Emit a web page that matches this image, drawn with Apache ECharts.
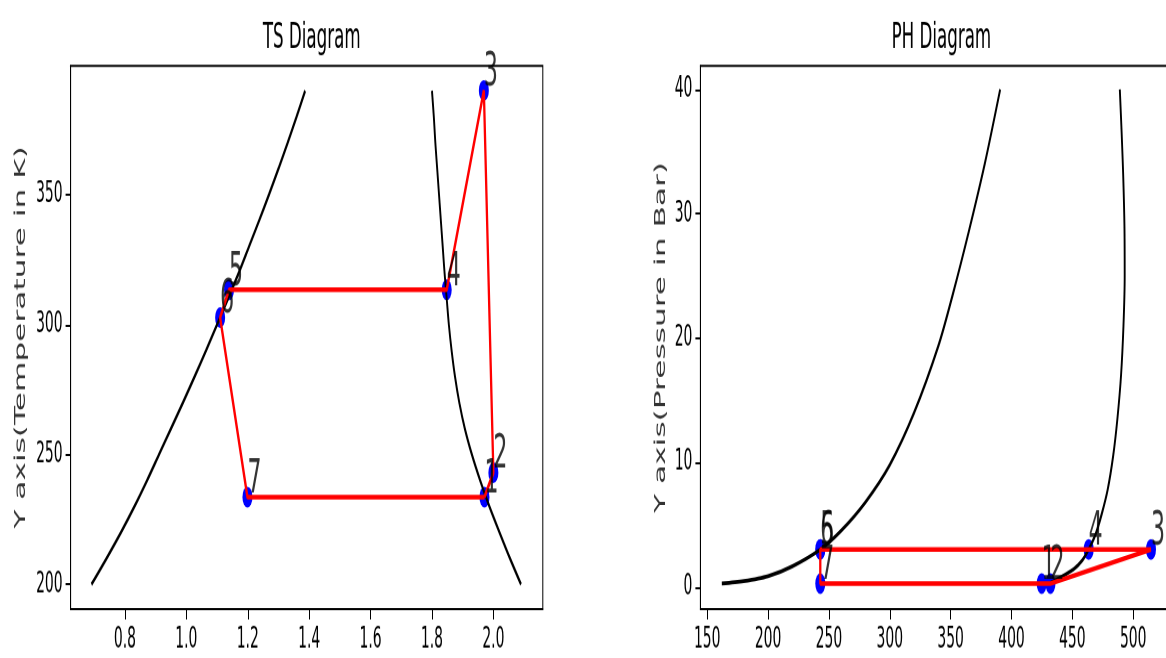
<!DOCTYPE html>
<html>
<head>
<meta charset="utf-8">
<title>TS / PH Diagram</title>
<script src="https://cdn.jsdelivr.net/npm/echarts@6.0.0/dist/echarts.min.js"></script>
<style>
  html, body { margin: 0; padding: 0; background: #fff; }
  #wrap { width: 1166px; height: 658px; position: relative; }
  /* the source figure is squashed: draw it 316px tall, then stretch to 658 */
  #chart { position: absolute; left: 0; top: 0; width: 1166px; height: 316px; transform: scaleY(2.0823); transform-origin: 0 0; }
</style>
</head>
<body>
<div id="wrap"><div id="chart"></div></div>
<script>
// cycle state points 1..7
const pointNames = ['1', '2', '3', '4', '5', '6', '7']
const tsEntropy = [1.971, 2.0, 1.969, 1.848, 1.139, 1.110, 1.199]
const tsTemp = [233.6, 243.0, 390.1, 313.4, 313.4, 302.7, 233.6]
const phEnthalpy = [424.8, 432.0, 514.6, 463.4, 242.9, 242.9, 242.9]
const phPressure = [0.25, 0.25, 3.0, 3.0, 3.0, 3.0, 0.25]

// saturation curves, TS
const tsCurveTemp = [200, 210, 220, 230, 240, 250, 260, 270, 280, 290, 300, 310, 320, 330, 340, 350, 360, 370, 380, 390]
const tsLiquidS = [0.691, 0.740, 0.787, 0.831, 0.872, 0.911, 0.950, 0.989, 1.027, 1.064, 1.100, 1.136, 1.171, 1.204, 1.237, 1.269, 1.300, 1.330, 1.359, 1.387]
const tsVapourS = [2.090, 2.054, 2.020, 1.987, 1.957, 1.930, 1.907, 1.889, 1.875, 1.864, 1.855, 1.848, 1.841, 1.835, 1.829, 1.823, 1.817, 1.811, 1.806, 1.800]

// saturation curves, PH
const phLiquidH = [162, 180, 200, 220, 242.9, 260, 280, 300, 320, 340, 352, 365, 378, 390.7]
const phLiquidP = [0.26, 0.45, 0.85, 1.65, 3.0, 4.5, 6.8, 9.8, 14.0, 19.4, 23.6, 28.6, 34.0, 40.0]
const phVapourH = [432, 441, 451, 458, 463.4, 469, 474, 479, 483.5, 487, 490, 492, 493, 492.8, 491.8, 490.5, 489]
const phVapourP = [0.3, 0.8, 1.4, 2.1, 3.0, 4.2, 5.8, 7.8, 10.5, 13.5, 17, 21, 25, 29, 33, 36.5, 40]

// tick labels
const tsXTicks = [0.8, 1.0, 1.2, 1.4, 1.6, 1.8, 2.0]
const tsYTicks = [200, 250, 300, 350]
const phXTicks = [150, 200, 250, 300, 350, 400, 450, 500]
const phYTicks = [0, 10, 20, 30, 40]

const FONT = 'DejaVu Sans'

function pairs(xs, ys) {
  return xs.map((x, i) => [x, ys[i]])
}

function cycle(xs, ys) {
  const d = pairs(xs, ys)
  d.push(d[0])
  return d
}

function axis(gridIndex, min, max, ticks, fmt) {
  return {
    type: 'value',
    gridIndex: gridIndex,
    min: min,
    max: max,
    axisLine: { show: true, onZero: false, lineStyle: { color: '#000', width: 1 } },
    axisTick: { show: true, length: 5, customValues: ticks, lineStyle: { color: '#000', width: 1 } },
    axisLabel: {
      customValues: ticks,
      formatter: fmt,
      fontFamily: FONT,
      fontSize: 13.9,
      color: '#000',
      margin: 8
    },
    splitLine: { show: false }
  }
}

function curve(idx, data) {
  return {
    type: 'line',
    xAxisIndex: idx,
    yAxisIndex: idx,
    data: data,
    symbol: 'none',
    smooth: 0.3,
    lineStyle: { color: '#000', width: 1.9 },
    z: 3,
    silent: true
  }
}

function redCycle(idx, data) {
  return {
    type: 'line',
    xAxisIndex: idx,
    yAxisIndex: idx,
    data: data,
    symbol: 'none',
    lineStyle: { color: '#ff0000', width: 2.3 },
    z: 4,
    silent: true
  }
}

function markers(idx, data) {
  return {
    type: 'scatter',
    xAxisIndex: idx,
    yAxisIndex: idx,
    data: data,
    symbolSize: 10,
    itemStyle: { color: '#0000ff', opacity: 1 },
    z: 2,
    silent: true
  }
}

function labels(idx, xs, ys) {
  return {
    type: 'scatter',
    xAxisIndex: idx,
    yAxisIndex: idx,
    data: xs.map((x, i) => ({ name: pointNames[i], value: [x, ys[i]] })),
    symbolSize: 10,
    itemStyle: { color: 'rgba(0,0,0,0)' },
    label: {
      show: true,
      formatter: p => p.name,
      position: [5, 8],
      align: 'left',
      verticalAlign: 'bottom',
      fontFamily: FONT,
      fontSize: 22,
      color: '#000'
    },
    z: 6,
    silent: true
  }
}

const tsX = axis(0, 0.623, 2.161, tsXTicks, v => v.toFixed(1))
const tsY = axis(0, 190.5, 399.6, tsYTicks, v => String(v))
tsY.name = 'Y axis(Temperature in K)'
tsY.nameLocation = 'middle'
tsY.nameGap = 42
tsY.nameTextStyle = { fontFamily: FONT, fontSize: 15, color: '#333' }

const phX = axis(1, 144.4, 532.2, phXTicks, v => String(v))
const phY = axis(1, -1.8, 41.9, phYTicks, v => String(v))
phY.name = 'Y axis(Pressure in Bar)'
phY.nameLocation = 'middle'
phY.nameGap = 32
phY.nameTextStyle = { fontFamily: FONT, fontSize: 15, color: '#333' }

const myChart = echarts.init(document.getElementById('chart'), null, { devicePixelRatio: 2 })

myChart.setOption({
  animation: false,
  backgroundColor: '#fff',
  title: [
    { text: 'TS Diagram', left: 306.7, top: 5, textAlign: 'center',
      textStyle: { fontFamily: FONT, fontSize: 16.7, fontWeight: 'normal', color: '#000' } },
    { text: 'PH Diagram', left: 936.4, top: 5, textAlign: 'center',
      textStyle: { fontFamily: FONT, fontSize: 16.7, fontWeight: 'normal', color: '#000' } }
  ],
  grid: [
    { left: 70.6, top: 31.6, width: 472.2, height: 260.9, show: true, borderColor: '#000', borderWidth: 1, outerBoundsMode: 'none' },
    { left: 700.4, top: 31.6, width: 472, height: 260.9, show: true, borderColor: '#000', borderWidth: 1, outerBoundsMode: 'none' }
  ],
  xAxis: [tsX, phX],
  yAxis: [tsY, phY],
  series: [
    markers(0, pairs(tsEntropy, tsTemp)),
    curve(0, pairs(tsLiquidS, tsCurveTemp)),
    curve(0, pairs(tsVapourS, tsCurveTemp)),
    redCycle(0, cycle(tsEntropy, tsTemp)),
    labels(0, tsEntropy, tsTemp),

    markers(1, pairs(phEnthalpy, phPressure)),
    curve(1, pairs(phLiquidH, phLiquidP)),
    curve(1, pairs(phVapourH, phVapourP)),
    redCycle(1, cycle(phEnthalpy, phPressure)),
    labels(1, phEnthalpy, phPressure)
  ]
})
</script>
</body>
</html>
